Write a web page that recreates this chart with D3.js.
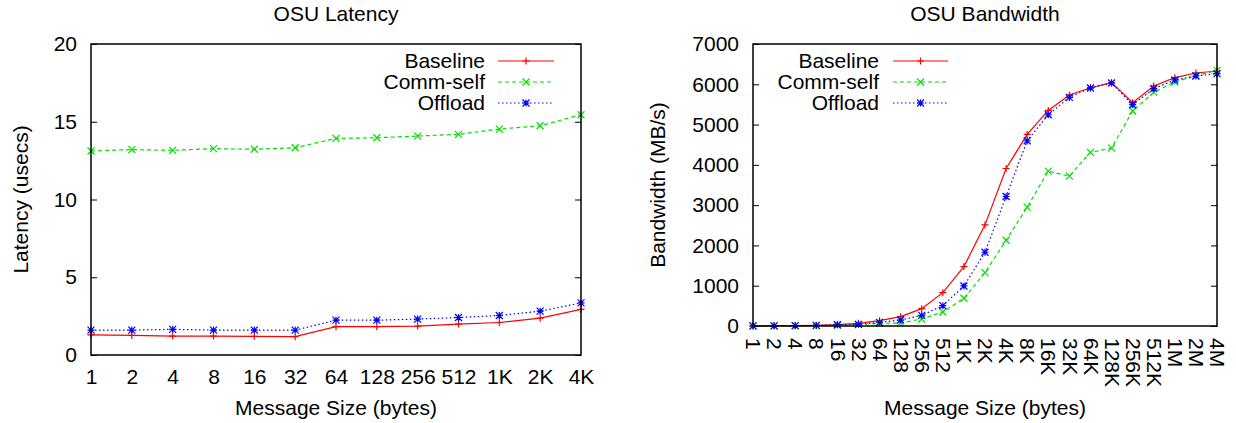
<!DOCTYPE html>
<html>
<head>
<meta charset="utf-8">
<script src="https://cdn.jsdelivr.net/npm/d3@7"></script>
<style>
body { margin: 0; background: #fff; }
svg text { font-family: 'Liberation Sans', Arial, sans-serif; fill: #000; }
</style>
</head>
<body>
<div class="chart-container"></div>
<script>

const latSizes = ['1','2','4','8','16','32','64','128','256','512','1K','2K','4K']
const latBaseline = [1.30,1.26,1.22,1.22,1.20,1.18,1.82,1.82,1.86,1.99,2.09,2.37,2.93]
const latCommSelf = [13.12,13.21,13.16,13.27,13.23,13.33,13.93,13.97,14.08,14.19,14.53,14.74,15.45]
const latOffload = [1.60,1.60,1.65,1.60,1.60,1.60,2.24,2.24,2.31,2.41,2.54,2.82,3.35]
const latTicks = [0,5,10,15,20]

const bwSizes = ['1','2','4','8','16','32','64','128','256','512','1K','2K','4K','8K','16K','32K','64K','128K','256K','512K','1M','2M','4M']
const bwBaseline = [3,6,11,19,36,66,133,232,431,828,1475,2510,3910,4755,5352,5733,5915,6040,5543,5957,6164,6280,6330]
const bwCommSelf = [1,2,4,8,16,33,66,75,174,348,688,1326,2129,2950,3844,3720,4308,4416,5336,5800,6056,6214,6346]
const bwOffload = [2,4,8,15,30,41,91,149,265,505,994,1831,3215,4598,5244,5675,5907,6032,5493,5891,6106,6206,6263]
const bwTicks = [0,1000,2000,3000,4000,5000,6000,7000]

const seriesNames = ['Baseline','Comm-self','Offload']
const seriesColors = ['#ff0000','#00e000','#0000ff']
const seriesDash = [null,'4,3','1.5,2.5']
const seriesMarks = ['plus','cross','star']

const width = 1236, height = 423
const fontSize = '21px'

const svg = d3.select('.chart-container')
.append('svg')
.attr('width', width)
.attr('height', height)

const markPath = (type, s) => {
	let plus = `M${-s},0H${s}M0,${-s}V${s}`
	let cross = `M${-s},${-s}L${s},${s}M${-s},${s}L${s},${-s}`
	if(type == 'plus') return plus
	if(type == 'cross') return cross
	return plus + cross
}

const drawChart = (opts) => {

	let g = svg.append('g')

	let x = d3.scalePoint()
	.domain(opts.sizes)
	.range([opts.left, opts.right])

	let y = d3.scaleLinear()
	.domain([0, d3.max(opts.ticks)])
	.range([opts.bottom, opts.top])

	// y ticks, mirrored inside the frame
	let yAxisL = g.append('g')
	.attr('transform', `translate(${opts.left},0)`)
	.call(d3.axisLeft(y).tickValues(opts.ticks).tickFormat(d3.format('d')).tickSizeInner(-6).tickSizeOuter(0).tickPadding(14))

	yAxisL.select('.domain').remove()
	yAxisL.selectAll('line').attr('stroke', '#000')
	yAxisL.selectAll('text').style('font-size', fontSize)

	let yAxisR = g.append('g')
	.attr('transform', `translate(${opts.right},0)`)
	.call(d3.axisRight(y).tickValues(opts.ticks).tickSizeInner(-6).tickSizeOuter(0).tickFormat(''))

	yAxisR.select('.domain').remove()
	yAxisR.selectAll('line').attr('stroke', '#000')

	// x tick labels
	let xAxis = g.append('g')
	.attr('transform', `translate(0,${opts.bottom})`)
	.call(d3.axisBottom(x).tickSize(0).tickPadding(0))

	xAxis.select('.domain').remove()

	if(opts.rotate)
	{
		xAxis.selectAll('text')
		.attr('y', 0)
		.attr('dy', '0.35em')
		.attr('transform', 'translate(0,12) rotate(90)')
		.attr('text-anchor', 'start')
		.style('font-size', fontSize)
	}
	else
	{
		xAxis.selectAll('text')
		.attr('y', 29)
		.attr('dy', 0)
		.style('font-size', fontSize)
	}

	let lines = [opts.baseline, opts.commSelf, opts.offload]

	lines.forEach((vals, i) => {

		let line = d3.line()
		.x((d, j) => x(opts.sizes[j]))
		.y(d => y(d))

		g.append('path')
		.datum(vals)
		.attr('d', line)
		.attr('fill', 'none')
		.attr('stroke', seriesColors[i])
		.attr('stroke-width', 1.2)
		.attr('stroke-dasharray', seriesDash[i])

		g.selectAll('.mark-' + i)
		.data(vals)
		.enter()
		.append('path')
		.attr('class', 'mark-' + i)
		.attr('transform', (d, j) => `translate(${x(opts.sizes[j])},${y(d)})`)
		.attr('d', markPath(seriesMarks[i], 3.5))
		.attr('fill', 'none')
		.attr('stroke', seriesColors[i])
		.attr('stroke-width', 1.2)
	})

	// frame
	g.append('rect')
	.attr('x', opts.left)
	.attr('y', opts.top)
	.attr('width', opts.right - opts.left)
	.attr('height', opts.bottom - opts.top)
	.attr('fill', 'none')
	.attr('stroke', '#000')
	.attr('stroke-width', 1.5)

	// legend
	let legend = g.append('g')

	seriesNames.forEach((name, i) => {

		let ly = opts.legendY + i * 21

		legend.append('text')
		.attr('x', opts.legendText)
		.attr('y', ly)
		.attr('dy', '0.35em')
		.attr('text-anchor', 'end')
		.style('font-size', fontSize)
		.text(name)

		legend.append('line')
		.attr('x1', opts.legendLine[0])
		.attr('x2', opts.legendLine[1])
		.attr('y1', ly)
		.attr('y2', ly)
		.attr('stroke', seriesColors[i])
		.attr('stroke-width', 1.2)
		.attr('stroke-dasharray', seriesDash[i])

		legend.append('path')
		.attr('transform', `translate(${(opts.legendLine[0] + opts.legendLine[1]) / 2},${ly})`)
		.attr('d', markPath(seriesMarks[i], 3.5))
		.attr('fill', 'none')
		.attr('stroke', seriesColors[i])
		.attr('stroke-width', 1.2)
	})

	let cx = (opts.left + opts.right) / 2

	g.append('text')
	.attr('x', cx)
	.attr('y', 21)
	.attr('text-anchor', 'middle')
	.style('font-size', fontSize)
	.text(opts.title)

	g.append('text')
	.attr('x', cx)
	.attr('y', 415)
	.attr('text-anchor', 'middle')
	.style('font-size', fontSize)
	.text('Message Size (bytes)')

	g.append('text')
	.attr('transform', `translate(${opts.yLabelX},${(opts.top + opts.bottom) / 2}) rotate(-90)`)
	.attr('text-anchor', 'middle')
	.style('font-size', fontSize)
	.text(opts.yLabel)
}

drawChart({
	sizes: latSizes, baseline: latBaseline, commSelf: latCommSelf, offload: latOffload, ticks: latTicks,
	left: 91, right: 581, top: 44, bottom: 355,
	title: 'OSU Latency', yLabel: 'Latency (usecs)', yLabelX: 28,
	legendY: 61, legendText: 485, legendLine: [498, 554], rotate: false
})

drawChart({
	sizes: bwSizes, baseline: bwBaseline, commSelf: bwCommSelf, offload: bwOffload, ticks: bwTicks,
	left: 753, right: 1217, top: 44, bottom: 326,
	title: 'OSU Bandwidth', yLabel: 'Bandwidth (MB/s)', yLabelX: 665,
	legendY: 61, legendText: 879, legendLine: [893, 948], rotate: true
})

</script>
</body>
</html>
